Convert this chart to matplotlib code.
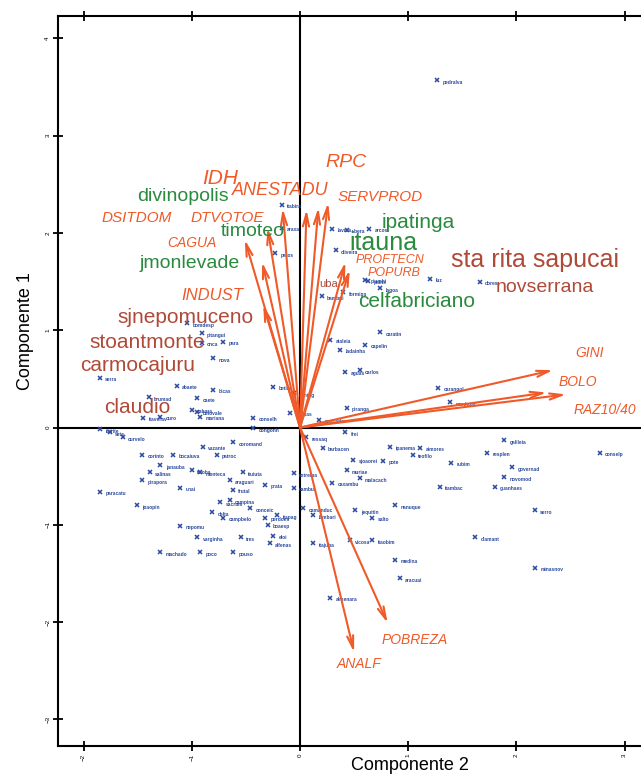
import matplotlib
matplotlib.use("Agg")
import matplotlib.pyplot as plt

plt.rcParams['font.family'] = ['Liberation Sans', 'DejaVu Sans']

# scores of the municipalities (Componente 2, Componente 1)
mun_x = [1.27, -0.17, -0.17, -0.23, 0.30, 0.43, 0.33, 0.20, 0.40, 0.60,
         0.64, 0.63, 0.74, 1.20, 1.66, -1.04, -0.91, -0.71, -0.91, -0.80,
         -1.85, -1.14, -0.80, -1.40, -0.95, -1.00, -1.29, -0.92, -0.25, -0.06,
         -0.09, -1.85, -1.76, -1.64, -1.46, -1.17, -1.29, -1.39, -1.00, -1.46,
         -1.11, -1.85, -1.51, -0.90, -0.62, -0.77, -0.92, -0.65, -0.53, -0.32,
         -0.62, -0.65, -0.74, -0.81, -0.46, -0.21, -0.32, -0.71, -1.11, -0.30,
         -0.95, -0.55, -0.25, -0.28, -1.29, -0.92, -0.62, 0.12, -0.06, -0.06,
         0.03, 0.12, 0.30, 0.49, 0.21, 0.06, -0.43, -0.43, -0.95, -1.45,
         0.43, 0.46, 0.43, 1.28, 1.39, 0.74, 0.83, 1.11, 1.73, 1.89,
         1.96, 1.29, 1.80, 2.17, 1.62, 2.17, 0.92, 0.67, 0.88, 0.28,
         0.51, 0.67, 1.40, 1.04, 0.77, 0.55, 0.88, 0.55, 0.42, 0.28,
         0.37, 0.60, 1.89, 0.18, 0.42, 2.77]
mun_y = [3.57, 2.29, 2.05, 1.79, 2.04, 2.03, 1.82, 1.35, 1.39, 1.52,
         2.04, 1.51, 1.43, 1.53, 1.50, 1.07, 0.97, 0.88, 0.87, 0.71,
         0.51, 0.43, 0.39, 0.31, 0.30, 0.18, 0.11, 0.11, 0.42, 0.35,
         0.15, -0.02, -0.05, -0.10, -0.28, -0.28, -0.39, -0.46, -0.44, -0.54,
         -0.62, -0.66, -0.80, -0.20, -0.15, -0.28, -0.46, -0.54, -0.46, -0.59,
         -0.64, -0.75, -0.77, -0.87, -0.83, -0.90, -0.93, -0.93, -1.01, -1.00,
         -1.13, -1.13, -1.11, -1.19, -1.28, -1.28, -1.28, -1.19, -0.62, -0.47,
         -0.83, -0.90, -0.57, -0.33, -0.21, -0.10, -0.01, 0.10, 0.16, 0.10,
         0.20, -1.16, -0.44, 0.41, 0.26, 0.98, -0.20, -0.21, -0.26, -0.13,
         -0.41, -0.61, -0.61, -0.85, -1.13, -1.44, -1.55, -1.16, -1.36, -1.75,
         -0.85, -0.93, -0.36, -0.28, -0.34, -0.52, -0.80, 0.59, 0.57, 0.90,
         0.80, 0.85, -0.51, 0.08, -0.05, -0.26]
mun_names = ["pedralva", "itabira", "araxa", "patos", "lavras", "ubera", "oliveira",
             "bambui", "formiga", "piumhi", "arcos", "pains", "lagoa", "luz", "dores",
             "bomdesp", "pitangui", "para", "onca", "nova", "serra", "abaete", "bicas",
             "brumad", "caete", "sabara", "ouro", "mariana", "betim", "contag",
             "vespas", "ibirite", "sete", "curvelo", "corinto", "bocaiuva", "janauba",
             "salinas", "taioba", "pirapora", "unai", "paracatu", "joaopin", "vazante",
             "coromand", "patroc", "monteca", "araguari", "ituiuta", "prata", "frutal",
             "campina", "sacram", "delta", "conceic", "itapag", "perdoes", "campbelo",
             "nepomu", "boaesp", "varginha", "tres", "eloi", "alfenas", "machado",
             "poco", "pouso", "itajuba", "cambui", "extrema", "camanduc", "lambari",
             "caxambu", "sjoaorei", "barbacen", "ressaq", "congonh", "conselh",
             "belovale", "itaverav", "piranga", "vicosa", "muriae", "carangol",
             "manhuac", "caratin", "ipanema", "aimores", "resplen", "galileia",
             "governad", "itambac", "guanhaes", "serro", "diamant", "minasnov",
             "aracuai", "itaobim", "medina", "almenara", "jequitin", "salto", "rubim",
             "teofilo", "pote", "malacach", "nanuque", "carlos", "aguas", "ataleia",
             "ladainha", "capelin", "novomod", "pescador", "frei", "conselp"]

# highlighted municipalities
green_names = ["divinopolis", "timoteo", "jmonlevade", "ipatinga", "itauna", "celfabriciano"]
green_x = [-1.08, -0.44, -1.02, 1.09, 0.77, 1.08]
green_y = [2.37, 2.01, 1.69, 2.11, 1.90, 1.29]
green_size = [14, 14, 14, 15, 18, 15]

red_names = ["sta rita sapucai", "novserrana", "sjnepomuceno", "stoantmonte",
             "carmocajuru", "claudio", "uba"]
red_x = [2.17, 2.26, -1.06, -1.41, -1.50, -1.50, 0.26]
red_y = [1.72, 1.44, 1.13, 0.87, 0.64, 0.21, 1.47]
red_size = [18, 14, 15, 15, 15, 15, 8]

# variable loadings (arrows)
var_names = ["IDH", "ANESTADU", "RPC", "SERVPROD", "DSITDOM", "DTVOTOE", "CAGUA",
             "INDUST", "PROFTECN", "POPURB", "GINI", "BOLO", "RAZ10/40",
             "POBREZA", "ANALF"]
var_x = [-0.16, 0.06, 0.26, 0.17, -0.51, -0.30, -0.35, -0.34, 0.42, 0.46,
         2.34, 2.28, 2.46, 0.81, 0.50]
var_y = [2.25, 2.24, 2.31, 2.26, 1.93, 2.05, 1.70, 1.26, 1.70, 1.62,
         0.59, 0.36, 0.34, -2.01, -2.31]

# where each variable name sits relative to its arrow tip
var_dx = [-0.58, -0.24, 0.17, 0.57, -1.00, -0.37, -0.65, -0.47, 0.41, 0.41,
          0.34, 0.29, 0.36, 0.25, 0.05]
var_dy = [0.31, 0.20, 0.41, 0.11, 0.22, 0.10, 0.20, 0.10, 0.02, -0.03,
          0.18, 0.11, -0.16, -0.17, -0.12]
var_size = [15, 13, 14, 11, 11, 11, 10, 12, 9, 9, 10, 10, 10, 10, 10]

orange = "#F05A28"
green = "#2A8A3E"
brown = "#B04A38"
blue = "#2B4AA0"

fig = plt.figure(figsize=(6.41, 7.76), dpi=100)
ax = fig.add_axes([58 / 641, 1 - 746 / 776, 1 - 58 / 641, (746 - 16) / 776])
ax.set_xlim(-2.237, 3.152)
ax.set_ylim(-3.273, 4.229)

ax.axhline(0, color="black", lw=1.5, zorder=1)
ax.axvline(0, color="black", lw=1.5, zorder=1)

ax.plot(mun_x, mun_y, ls="none", marker="x", ms=3, mew=1.1, color=blue, zorder=3)
for x, y, name in zip(mun_x, mun_y, mun_names):
    ax.text(x + 0.05, y - 0.02, name, fontsize=3.5, fontweight="bold", color=blue,
            ha="left", va="center", zorder=3)

for x, y, name, dx, dy, fs in zip(var_x, var_y, var_names, var_dx, var_dy, var_size):
    ax.annotate("", xy=(x, y), xytext=(0, 0),
                arrowprops=dict(arrowstyle="->,head_length=0.9,head_width=0.22",
                                color=orange, lw=1.5, shrinkA=0, shrinkB=0),
                zorder=4)
    ax.text(x + dx, y + dy, name, fontsize=fs, color=orange, style="italic",
            ha="center", va="center", zorder=5, clip_on=False)

for x, y, name, fs in zip(green_x, green_y, green_names, green_size):
    ax.text(x, y, name, fontsize=fs, color=green, ha="center", va="center", zorder=5)
for x, y, name, fs in zip(red_x, red_y, red_names, red_size):
    ax.text(x, y, name, fontsize=fs, color=brown, ha="center", va="center", zorder=5)

for side in ["left", "bottom", "top"]:
    ax.spines[side].set_linewidth(1.5)
ax.spines["right"].set_visible(False)

ax.set_xticks(range(-2, 4))
ax.set_yticks(range(-3, 5))
ax.tick_params(direction="inout", length=7, width=1.3, labelsize=4.5, top=True,
               labeltop=False, pad=2)
plt.setp(ax.get_xticklabels(), rotation=90, va="top")
plt.setp(ax.get_yticklabels(), rotation=90, va="center")

fig.text(410 / 641, 1 - 766 / 776, "Componente 2", fontsize=13, ha="center", va="center")
fig.text(25 / 641, 1 - 331 / 776, "Componente 1", fontsize=13, ha="center", va="center",
         rotation=90)

fig.savefig("out.png", dpi=100)
